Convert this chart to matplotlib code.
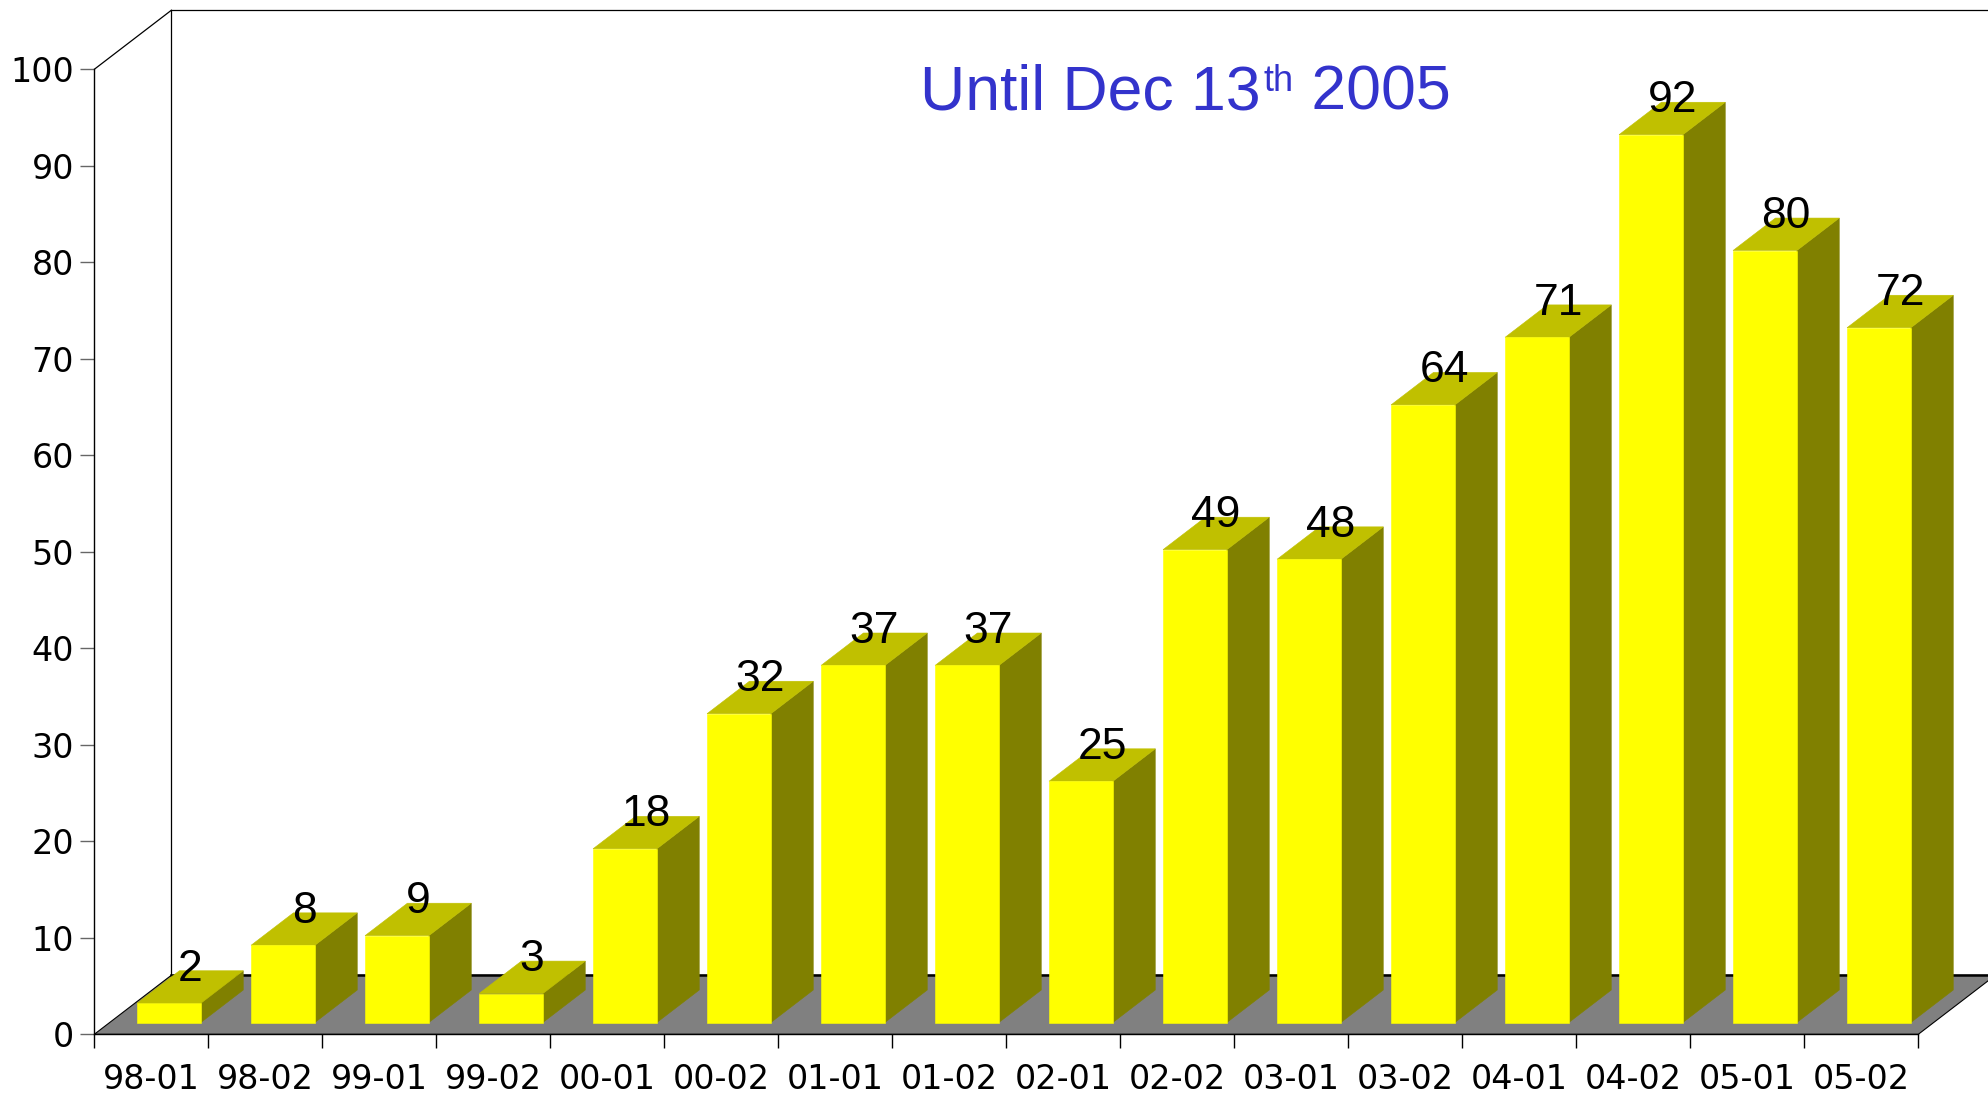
import matplotlib
matplotlib.use("Agg")
import matplotlib.pyplot as plt
import numpy as np
from matplotlib import font_manager
from matplotlib.lines import Line2D
from matplotlib.patches import Polygon
from matplotlib.transforms import IdentityTransform

# data
periods = ['98-01', '98-02', '99-01', '99-02', '00-01', '00-02', '01-01', '01-02',
           '02-01', '02-02', '03-01', '03-02', '04-01', '04-02', '05-01', '05-02']
counts = [2, 8, 9, 3, 18, 32, 37, 37, 25, 49, 48, 64, 71, 92, 80, 72]
y_ticks = list(range(0, 101, 10))
title_main, title_sup, title_tail = 'Until Dec 13', 'th', ' 2005'

W, H, DPI = 1988, 1094, 100
DEPTH_PX = (77, 59)          # oblique offset of the full floor depth, in pixels
BAR_FRONT, BAR_BACK = 0.2, 0.75
BAR_LEFT, BAR_RIGHT = 0.24, 0.80

FRONT_COL = '#FFFF00'
TOP_COL = '#C0C000'
SIDE_COL = '#808000'
FLOOR_COL = '#808080'
TITLE_COL = '#3333CC'

# value labels use a narrow face in the reference; title is plain Arial-like
names = {f.name for f in font_manager.fontManager.ttflist}
if 'Liberation Sans Narrow' in names:
    label_font = 'Liberation Sans Narrow'
else:
    label_font = 'Liberation Sans'
label_size = 32
title_font = 'Liberation Sans'

fig = plt.figure(figsize=(W / DPI, H / DPI), dpi=DPI)
fig.patch.set_facecolor('white')
ax = fig.add_axes([94.3 / W, (H - 1034.3) / H, 1824 / W, 965 / H])
n = len(periods)
ax.set_xlim(0, n)
ax.set_ylim(0, 100)
ax.patch.set_visible(False)


def proj(x, y, d):
    """Front-plane data point pushed back to depth d (0 front, 1 back)."""
    px, py = ax.transData.transform((x, y))
    return (px + d * DEPTH_PX[0], py + d * DEPTH_PX[1])


def add_poly(pts, color, z):
    ax.add_patch(Polygon(pts, closed=True, facecolor=color, edgecolor=color,
                         linewidth=0.4, transform=IdentityTransform(),
                         clip_on=False, zorder=z))


def add_line(p0, p1, lw=1.0, z=1.5):
    ax.add_line(Line2D([p0[0], p1[0]], [p0[1], p1[1]], color='black', linewidth=lw,
                       transform=IdentityTransform(), clip_on=False, zorder=z))


# floor
ax.add_patch(Polygon([proj(0, 0, 0), proj(n, 0, 0), proj(n, 0, 1), proj(0, 0, 1)],
                     closed=True, facecolor=FLOOR_COL, edgecolor='black', linewidth=0.8,
                     transform=IdentityTransform(), clip_on=False, zorder=1))
add_line(proj(0, 0, 1), proj(n, 0, 1), lw=1.8)

# back wall and left wall edges
add_line(proj(0, 0, 1), proj(0, 100, 1), lw=0.9)
add_line(proj(0, 100, 1), proj(n + 1, 100, 1), lw=0.9)
add_line(proj(0, 100, 0), proj(0, 100, 1), lw=0.9)

# bars
for i, v in enumerate(counts):
    x0, x1 = i + BAR_LEFT, i + BAR_RIGHT
    f, b = BAR_FRONT, BAR_BACK
    add_poly([proj(x1, 0, f), proj(x1, 0, b), proj(x1, v, b), proj(x1, v, f)], SIDE_COL, 3)
    add_poly([proj(x0, v, f), proj(x1, v, f), proj(x1, v, b), proj(x0, v, b)], TOP_COL, 3)
    add_poly([proj(x0, 0, f), proj(x1, 0, f), proj(x1, v, f), proj(x0, v, f)], FRONT_COL, 3.1)
    cx, cy = proj((x0 + x1) / 2, v, (f + b) / 2)
    ax.annotate(str(v), xy=(cx, cy), xycoords='figure pixels', xytext=(0, 4.5),
                textcoords='offset points', ha='center', va='baseline',
                fontsize=label_size, family=label_font, color='black', zorder=5,
                annotation_clip=False)

# axes
for side in ['top', 'right']:
    ax.spines[side].set_visible(False)
ax.spines['left'].set_linewidth(1.0)
ax.spines['bottom'].set_linewidth(1.0)

ax.set_yticks(y_ticks)
ax.set_yticklabels([str(t) for t in y_ticks])
ax.tick_params(axis='y', direction='out', length=10, width=1, color='#666666',
               labelsize=24, pad=4.5)

ax.set_xticks(range(n + 1))
ax.set_xticklabels([])
ax.tick_params(axis='x', which='major', direction='out', length=10, width=1, color='black')
ax.set_xticks(np.arange(n) + 0.5, minor=True)
ax.set_xticklabels(periods, minor=True)
ax.tick_params(axis='x', which='minor', length=0, pad=21, labelsize=24)

# title with superscript, centred where the reference puts it
renderer = fig.canvas.get_renderer()
base_y = (H - 109.3) / H
t1 = fig.text(0, base_y, title_main, fontsize=45, family=title_font,
              color=TITLE_COL, ha='left', va='baseline')
bb = t1.get_window_extent(renderer)
t2 = fig.text((bb.x1 + 3) / W, (H - 90.7) / H, title_sup, fontsize=26, family=title_font,
              color=TITLE_COL, ha='left', va='baseline')
bb2 = t2.get_window_extent(renderer)
t3 = fig.text(bb2.x1 / W, base_y, title_tail, fontsize=45, family=title_font,
              color=TITLE_COL, ha='left', va='baseline')
bb3 = t3.get_window_extent(renderer)
shift = 1185.5 - (bb.x0 + bb3.x1) / 2
for t in (t1, t2, t3):
    t.set_x(t.get_position()[0] + shift / W)

fig.savefig('out.png', dpi=DPI)
